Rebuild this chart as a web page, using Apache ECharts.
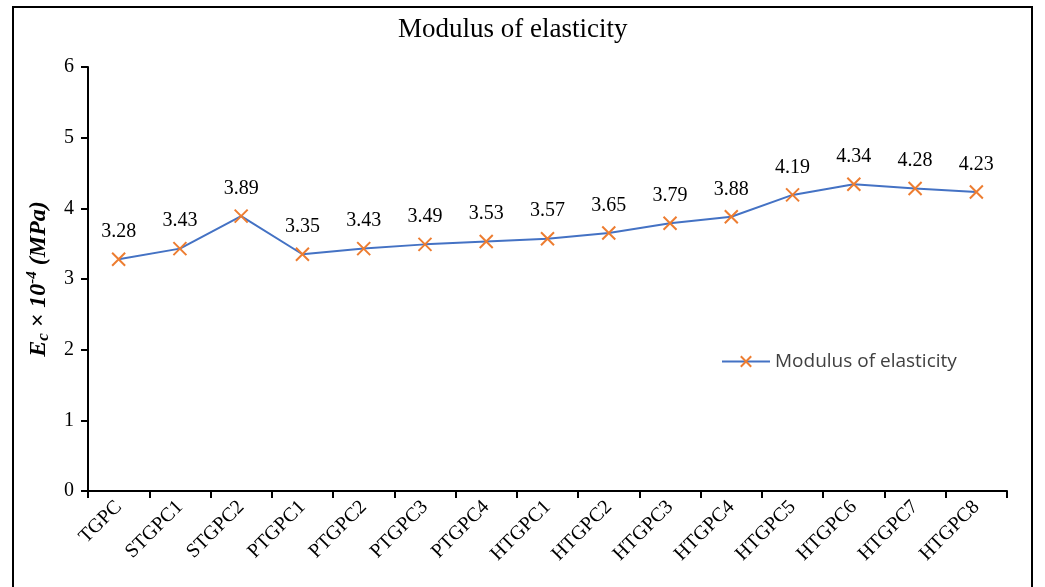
<!DOCTYPE html>
<html><head><meta charset="utf-8">
<script src="https://cdn.jsdelivr.net/npm/echarts@6/dist/echarts.min.js"></script>
<style>html,body{margin:0;padding:0;background:#fff}#c{width:1045px;height:587px}</style>
</head><body><div id="c"></div>
<script>
const categories = ['TGPC','STGPC1','STGPC2','PTGPC1','PTGPC2','PTGPC3','PTGPC4','HTGPC1','HTGPC2','HTGPC3','HTGPC4','HTGPC5','HTGPC6','HTGPC7','HTGPC8'];
const modulus = [3.28,3.43,3.89,3.35,3.43,3.49,3.53,3.57,3.65,3.79,3.88,4.19,4.34,4.28,4.23];
const yTicks = {min:0, max:6, interval:1};
const seriesName = 'Modulus of elasticity';

const serif = '"Liberation Serif","Times New Roman",serif';
const xSym = 'path://M0,0L10,10M10,0L0,10';
const chart = echarts.init(document.getElementById('c'));
chart.setOption({
  animation:false,
  title:{text:'Modulus of elasticity', left:393, top:11,
    textStyle:{fontFamily:serif, fontSize:27, fontWeight:'normal', color:'#000'}},
  grid:{left:88, right:38, top:67, bottom:96, containLabel:false},
  legend:{left:716, top:347, itemWidth:48, itemHeight:13, itemGap:6,
    textStyle:{fontFamily:'"Open Sans","Liberation Sans",sans-serif', fontSize:19, color:'#404040'},
    data:[seriesName]},
  xAxis:{type:'category', data:categories, boundaryGap:true,
    axisLine:{lineStyle:{color:'#000', width:2}},
    axisTick:{show:true, length:7, lineStyle:{color:'#000', width:2}},
    axisLabel:{rotate:45, fontFamily:serif, fontSize:20, color:'#000', margin:13, interval:0}},
  yAxis:{type:'value', min:yTicks.min, max:yTicks.max, interval:yTicks.interval,
    splitLine:{show:false},
    axisLine:{show:true, lineStyle:{color:'#000', width:2}},
    axisTick:{show:true, length:7, lineStyle:{color:'#000', width:2}},
    axisLabel:{fontFamily:serif, fontSize:20, color:'#000', margin:14},
    name:'{e|E}{s|c}{t| × 10}{p|-4}{t| (MPa)}', nameLocation:'middle', nameGap:36, nameRotate:90,
    nameTextStyle:{fontFamily:serif, color:'#000',
      rich:{
        e:{fontFamily:serif, fontSize:24, fontWeight:'bold', fontStyle:'italic'},
        s:{fontFamily:serif, fontSize:17, fontWeight:'bold', fontStyle:'italic', padding:[10,0,0,0]},
        t:{fontFamily:serif, fontSize:24, fontWeight:'bold', fontStyle:'italic'},
        p:{fontFamily:serif, fontSize:15, fontWeight:'bold', fontStyle:'italic', padding:[0,0,12,0]}
      }}},
  series:[{name:seriesName, type:'line', data:modulus,
    symbol:xSym, symbolSize:13,
    lineStyle:{color:'#4472C4', width:2},
    itemStyle:{color:'#ED7D31', borderColor:'#ED7D31', borderWidth:2},
    label:{show:true, position:'top', distance:10, fontFamily:serif, fontSize:20, color:'#000',
      formatter:p=>p.value.toFixed(2)}}],
  graphic:[{type:'rect', shape:{x:13,y:7,width:1019,height:600}, style:{fill:'none', stroke:'#000', lineWidth:2}, silent:true}]
});
</script></body></html>
